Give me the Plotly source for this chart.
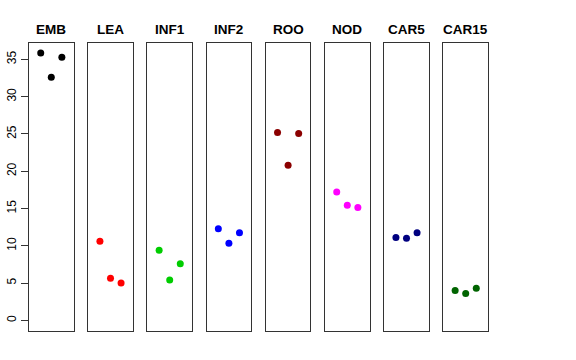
import plotly.graph_objects as go

groups = ["EMB", "LEA", "INF1", "INF2", "ROO", "NOD", "CAR5", "CAR15"]
colors = ["#000000", "#FF0000", "#00CD00", "#0000FF", "#8B0000", "#FF00FF", "#000080", "#006400"]
x_rep = [1, 2, 3]
values = {
    "EMB": [35.85, 32.6, 35.3],
    "LEA": [10.6, 5.65, 5.0],
    "INF1": [9.4, 5.4, 7.6],
    "INF2": [12.3, 10.35, 11.75],
    "ROO": [25.2, 20.8, 25.05],
    "NOD": [17.2, 15.45, 15.15],
    "CAR5": [11.1, 11.0, 11.75],
    "CAR15": [4.0, 3.6, 4.3],
}
y_ticks = [0, 5, 10, 15, 20, 25, 30, 35]

W, H = 576, 360
left, right, top, bottom = 29, 488, 43, 331
pw = right - left
panel_w = 44.6
step = 59.2

fig = go.Figure()
layout = dict(
    width=W, height=H,
    margin=dict(l=left, r=W - right, t=top, b=H - bottom, pad=0, autoexpand=False),
    paper_bgcolor="white", plot_bgcolor="white",
    showlegend=False,
    font=dict(family="Liberation Sans, Arial, sans-serif", size=12, color="black"),
)
annotations = []
for i, g in enumerate(groups):
    n = "" if i == 0 else str(i + 1)
    x0 = (i * step) / pw
    x1 = (i * step + panel_w) / pw
    fig.add_trace(go.Scatter(
        x=x_rep, y=values[g], mode="markers",
        marker=dict(color=colors[i], size=7),
        xaxis="x" + n, yaxis="y" + n, hoverinfo="y",
    ))
    layout["xaxis" + n] = dict(
        domain=[x0, min(x1, 1)], range=[-0.11, 4.11], showgrid=False, zeroline=False,
        showticklabels=False, ticks="", showline=True, mirror=True,
        linecolor="#333333", linewidth=1, anchor="y" + n, automargin=False,
    )
    ya = dict(
        range=[-1.43, 37.2], showgrid=False, zeroline=False,
        showline=True, mirror=True, linecolor="#333333", linewidth=1,
        anchor="x" + n, automargin=False,
    )
    if i == 0:
        ya.update(tickvals=y_ticks, ticktext=[str(v) for v in y_ticks],
                  ticks="outside", ticklen=7, tickcolor="#333333",
                  tickangle=-90, tickfont=dict(size=12, color="#000000"))
    else:
        ya.update(showticklabels=False, ticks="", matches="y")
    layout["yaxis" + n] = ya
    annotations.append(dict(
        text="<b>" + g + "</b>", x=(x0 + x1) / 2, y=1, xref="paper", yref="paper",
        xanchor="center", yanchor="middle", yshift=14, showarrow=False,
        font=dict(size=13.5, color="black"),
    ))
layout["annotations"] = annotations
fig.update_layout(**layout)
fig.write_html("out.html", config={"displayModeBar": False},
               post_script="document.body.style.margin='0';")
